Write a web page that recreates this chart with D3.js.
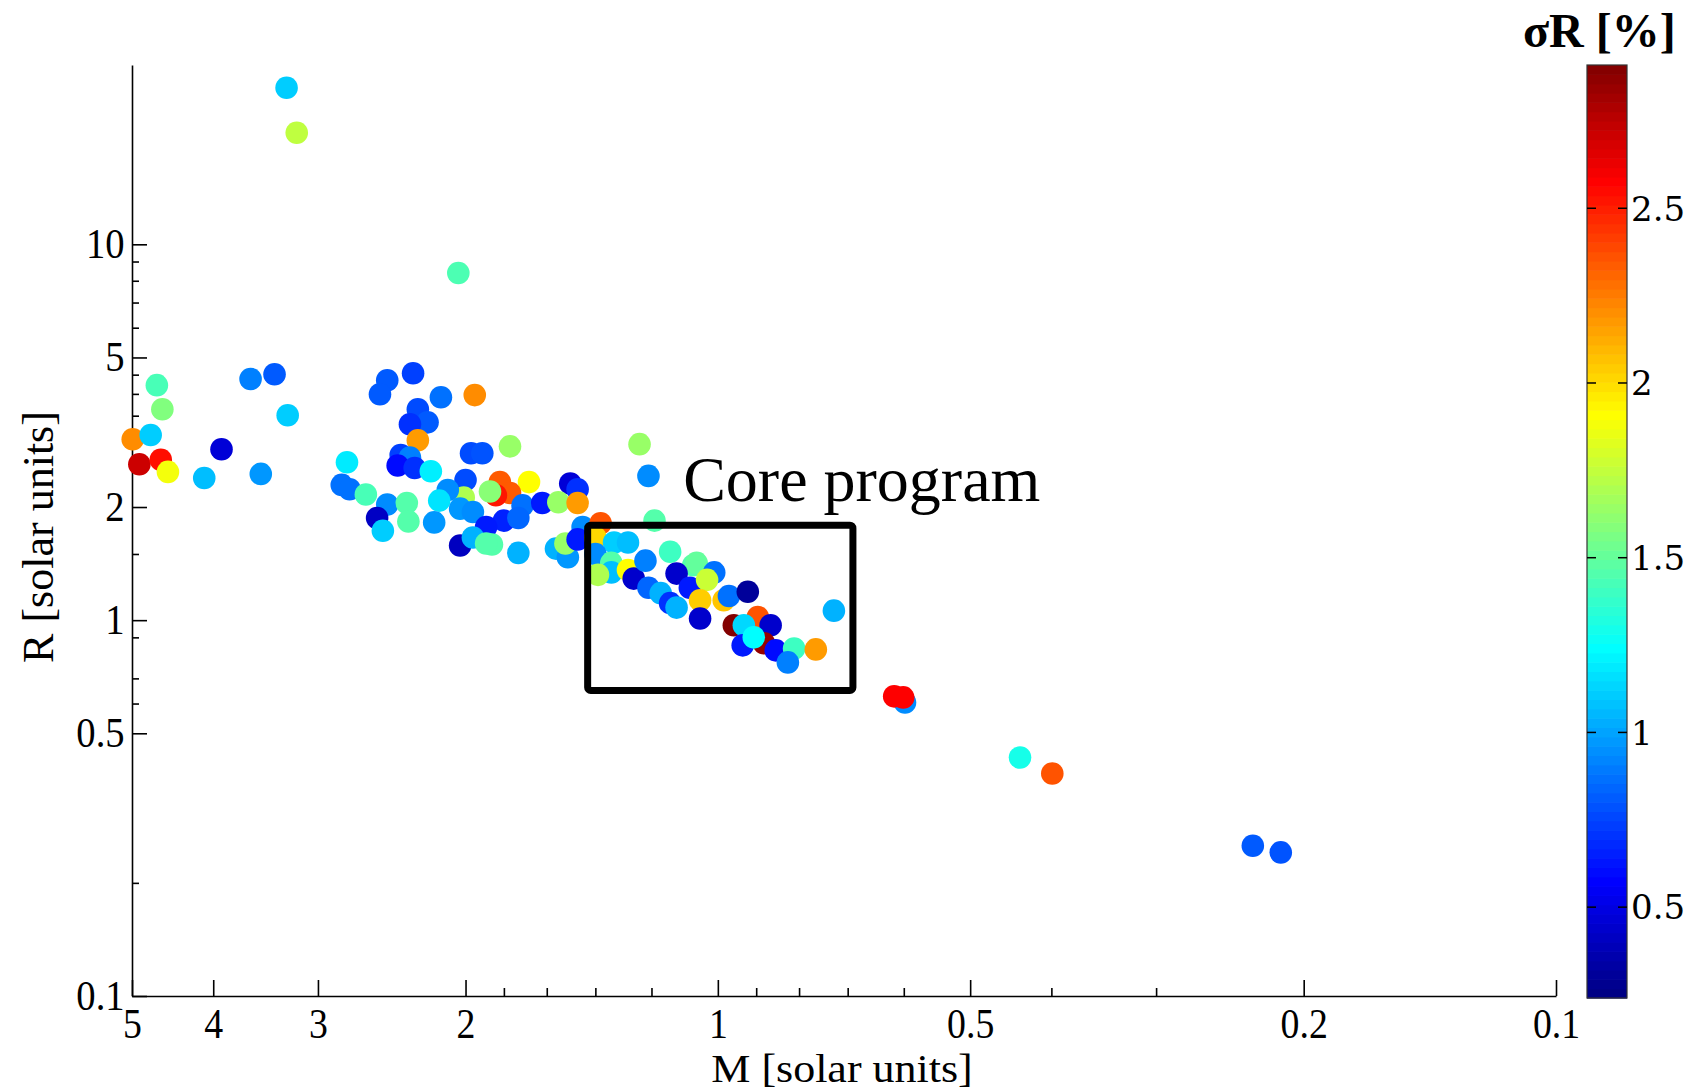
<!DOCTYPE html>
<html>
<head>
<meta charset="utf-8">
<script src="https://cdn.jsdelivr.net/npm/d3@7"></script>
<style>
  body { margin: 0; background: #fff; }
  svg { display: block; }
  text { fill: #000; }
</style>
</head>
<body>
<div id="chart"></div>
<script>
// Mass M, radius R (solar units) and radius error sigmaR [%]
const mass = [
  3.27, 3.18, 2.04, 4.67, 4.60, 4.99, 4.75, 4.90, 4.62, 4.53,
  3.91, 4.10, 3.61, 3.38, 3.26, 3.51, 2.77, 2.81, 2.75, 2.63,
  2.48, 2.35, 2.34, 2.55, 2.51, 2.48, 2.53, 2.31, 2.28, 2.22,
  2.33, 2.28, 2.39, 2.33, 2.41, 2.30, 2.20, 2.14, 1.95, 1.97,
  1.91, 1.77, 1.24, 1.21, 2.00, 1.82, 1.68, 1.50, 1.47, 1.77,
  1.84, 1.87, 2.01, 2.10, 2.15, 2.18, 2.03, 1.96, 1.71, 1.62,
  1.55, 1.47, 1.80, 1.73, 1.89, 2.03, 1.96, 1.86, 1.89, 1.73,
  1.56, 1.51, 1.45, 1.38, 1.52, 1.47, 1.19, 1.40, 1.33, 1.28,
  1.40, 1.34, 1.34, 1.39, 1.28, 1.26, 1.22, 1.14, 1.07, 1.06,
  1.01, 1.12, 1.21, 1.17, 1.08, 1.03, 1.05, 1.14, 1.12, 1.05,
  0.984, 0.970, 0.921, 0.957, 0.896, 0.931, 0.865, 0.934, 0.881, 0.906,
  0.853, 0.811, 0.764, 0.825, 0.727, 0.598, 0.616, 0.601, 0.436, 0.399, 0.230, 0.213
];
const radius = [
  26.1, 19.8, 8.39, 4.22, 3.64, 3.03, 3.11, 2.60, 2.67, 2.48,
  2.85, 2.39, 4.38, 4.51, 3.51, 2.45, 2.63, 2.29, 2.23, 2.16,
  2.03, 2.05, 1.83, 1.87, 1.73, 4.35, 3.99, 4.54, 3.64, 3.36,
  3.32, 3.01, 2.75, 2.71, 2.58, 2.54, 2.49, 3.92, 3.97, 2.78,
  2.78, 2.90, 2.94, 2.42, 2.36, 2.33, 2.33, 2.31, 2.23, 2.18,
  2.15, 2.20, 2.12, 2.22, 2.08, 1.82, 1.98, 1.94, 2.02, 2.05,
  2.06, 2.05, 1.84, 1.87, 1.77, 1.58, 1.66, 1.59, 1.60, 1.51,
  1.55, 1.47, 1.77, 1.81, 1.60, 1.64, 1.84, 1.66, 1.61, 1.61,
  1.50, 1.42, 1.34, 1.32, 1.36, 1.29, 1.44, 1.52, 1.40, 1.42,
  1.34, 1.33, 1.22, 1.18, 1.22, 1.28, 1.13, 1.11, 1.08, 1.01,
  1.13, 1.16, 1.19, 0.969, 1.02, 0.969, 0.969, 0.857, 0.868, 0.900,
  0.831, 0.841, 0.836, 0.772, 1.06, 0.604, 0.627, 0.623, 0.431, 0.391, 0.251, 0.241
];
const sigmaR = [
  1.11, 1.74, 1.44, 1.43, 1.58, 2.21, 1.11, 2.71, 2.54, 1.88,
  0.47, 1.07, 0.91, 0.81, 1.11, 0.97, 1.19, 0.87, 0.87, 1.43,
  0.94, 1.46, 1.46, 0.42, 1.11, 0.81, 0.81, 0.74, 0.77, 0.81,
  0.70, 2.17, 0.74, 0.91, 0.60, 0.70, 1.20, 0.87, 2.21, 0.77,
  0.79, 1.64, 1.64, 0.94, 0.77, 2.34, 1.91, 0.47, 0.70, 2.34,
  2.52, 1.60, 1.70, 0.94, 1.17, 0.97, 0.97, 0.94, 0.87, 0.64,
  1.64, 2.17, 0.66, 0.84, 0.64, 0.41, 1.04, 1.46, 1.46, 1.04,
  1.04, 0.97, 0.94, 2.36, 1.64, 0.64, 1.46, 2.01, 1.11, 1.07,
  0.94, 1.46, 1.07, 1.70, 1.91, 0.44, 0.91, 1.40, 1.46, 1.50,
  0.87, 0.44, 0.84, 1.04, 0.64, 1.77, 2.04, 0.70, 1.04, 0.44,
  2.06, 0.87, 0.31, 2.90, 2.36, 1.14, 0.44, 0.64, 2.85, 1.24,
  0.60, 1.40, 2.17, 0.91, 1.04, 0.94, 2.58, 2.58, 1.30, 2.36, 0.81, 0.79
];

const xMajorTicks = [5, 4, 3, 2, 1, 0.5, 0.2, 0.1];
const xMinorTicks = [1.8, 1.6, 1.4, 1.2, 0.9, 0.8, 0.7, 0.6, 0.4, 0.3];
const yMajorTicks = [10, 5, 2, 1, 0.5, 0.1];
const yMinorTicks = [9, 8, 7, 6, 4.5, 4, 3.5, 1.5, 0.9, 0.7, 0.6, 0.2];
const colorTicks = [0.5, 1, 1.5, 2, 2.5];
const sigmaRange = [0.24, 2.91];

// "Core program" region (mass, radius)
const coreMass = [1.43, 0.69];
const coreRadius = [0.65, 1.79];

const serif = '"Liberation Serif", "Times New Roman", serif';

const W = 1699, H = 1092;
const svg = d3.select("#chart").append("svg")
  .attr("width", W)
  .attr("height", H)
  .style("font-family", serif);

const x = d3.scaleLog().domain([5, 0.1]).range([132, 1556]);
const y = d3.scaleLog().domain([0.1, 30]).range([996, 65]);

// jet colormap
function jet(t) {
  const c = v => Math.max(0, Math.min(1, v));
  const r = c(1.5 - Math.abs(4 * t - 3));
  const g = c(1.5 - Math.abs(4 * t - 2));
  const b = c(1.5 - Math.abs(4 * t - 1));
  return d3.rgb(r * 255, g * 255, b * 255).toString();
}
const color = d3.scaleSequential(jet).domain(sigmaRange);

// Axes
const fmt = d3.format("~g");

const xAxis = svg.append("g")
  .attr("transform", "translate(0,996)")
  .call(d3.axisBottom(x).tickValues(xMajorTicks).tickFormat(fmt)
    .tickSize(-16).tickSizeOuter(0).tickPadding(12));
xAxis.selectAll("text")
  .style("font-family", serif)
  .style("font-size", "42px")
  .attr("transform", "scale(0.9,1)");

const xMinor = svg.append("g")
  .attr("transform", "translate(0,996)")
  .call(d3.axisBottom(x).tickValues(xMinorTicks).tickFormat("")
    .tickSize(-8).tickSizeOuter(0));
xMinor.select(".domain").remove();

const yAxis = svg.append("g")
  .attr("transform", "translate(132,0)")
  .call(d3.axisLeft(y).tickValues(yMajorTicks).tickFormat(fmt)
    .tickSize(-15).tickSizeOuter(0).tickPadding(8));
yAxis.selectAll("text")
  .style("font-family", serif)
  .style("font-size", "42px")
  .attr("transform", "scale(0.92,1)");

const yMinor = svg.append("g")
  .attr("transform", "translate(132,0)")
  .call(d3.axisLeft(y).tickValues(yMinorTicks).tickFormat("")
    .tickSize(-7).tickSizeOuter(0));
yMinor.select(".domain").remove();

svg.selectAll(".domain, .tick line")
  .attr("stroke", "#000")
  .attr("stroke-width", 1.6);

// Axis titles
svg.append("text")
  .attr("transform", "translate(842,1082) scale(1.1,1)")
  .attr("text-anchor", "middle")
  .style("font-size", "40px")
  .text("M [solar units]");

svg.append("text")
  .attr("transform", "translate(53,537) rotate(-90)")
  .attr("text-anchor", "middle")
  .style("font-size", "44px")
  .text("R [solar units]");

// Data points
const points = mass.map((m, i) => ({ m, r: radius[i], s: sigmaR[i] }));

svg.append("g")
  .selectAll("circle")
  .data(points)
  .enter()
  .append("circle")
  .attr("cx", d => x(d.m))
  .attr("cy", d => y(d.r))
  .attr("r", 11.3)
  .attr("fill", d => color(d.s));

// Core program box
svg.append("rect")
  .attr("x", x(coreMass[0]))
  .attr("y", y(coreRadius[1]))
  .attr("width", x(coreMass[1]) - x(coreMass[0]))
  .attr("height", y(coreRadius[0]) - y(coreRadius[1]))
  .attr("rx", 3)
  .attr("fill", "none")
  .attr("stroke", "#000")
  .attr("stroke-width", 7);

svg.append("text")
  .attr("x", x(1.10))
  .attr("y", y(2.08))
  .style("font-size", "64px")
  .text("Core program");

// Colorbar
const cbX = 1587, cbW = 40;
const cy = d3.scaleLinear().domain(sigmaRange).range([998, 65]);
const nBands = 100;
const bands = d3.range(nBands).map(i => {
  const v0 = sigmaRange[0] + (sigmaRange[1] - sigmaRange[0]) * i / nBands;
  const v1 = sigmaRange[0] + (sigmaRange[1] - sigmaRange[0]) * (i + 1) / nBands;
  return [v0, v1];
});

const cb = svg.append("g");
cb.selectAll("rect.band")
  .data(bands)
  .enter()
  .append("rect")
  .attr("class", "band")
  .attr("x", cbX)
  .attr("width", cbW)
  .attr("y", d => cy(d[1]))
  .attr("height", d => cy(d[0]) - cy(d[1]) + 0.6)
  .attr("fill", d => color((d[0] + d[1]) / 2));

cb.append("rect")
  .attr("x", cbX)
  .attr("y", cy(sigmaRange[1]))
  .attr("width", cbW)
  .attr("height", cy(sigmaRange[0]) - cy(sigmaRange[1]))
  .attr("fill", "none")
  .attr("stroke", "#333")
  .attr("stroke-width", 1.2);

const cbTicks = cb.selectAll("g.cbtick")
  .data(colorTicks)
  .enter()
  .append("g")
  .attr("class", "cbtick")
  .attr("transform", d => `translate(0,${cy(d)})`);

cbTicks.append("line")
  .attr("x1", cbX).attr("x2", cbX + 9)
  .attr("stroke", "#000").attr("stroke-width", 1.5);
cbTicks.append("line")
  .attr("x1", cbX + cbW - 9).attr("x2", cbX + cbW)
  .attr("stroke", "#000").attr("stroke-width", 1.5);
cbTicks.append("text")
  .attr("x", 1631)
  .attr("dy", "0.36em")
  .style("font-family", '"DejaVu Serif", serif')
  .style("font-size", "34px")
  .text(d => fmt(d));

svg.append("text")
  .attr("x", 1523)
  .attr("y", 47)
  .style("font-size", "48px")
  .style("font-weight", "bold")
  .text("σR [%]");
</script>
</body>
</html>
